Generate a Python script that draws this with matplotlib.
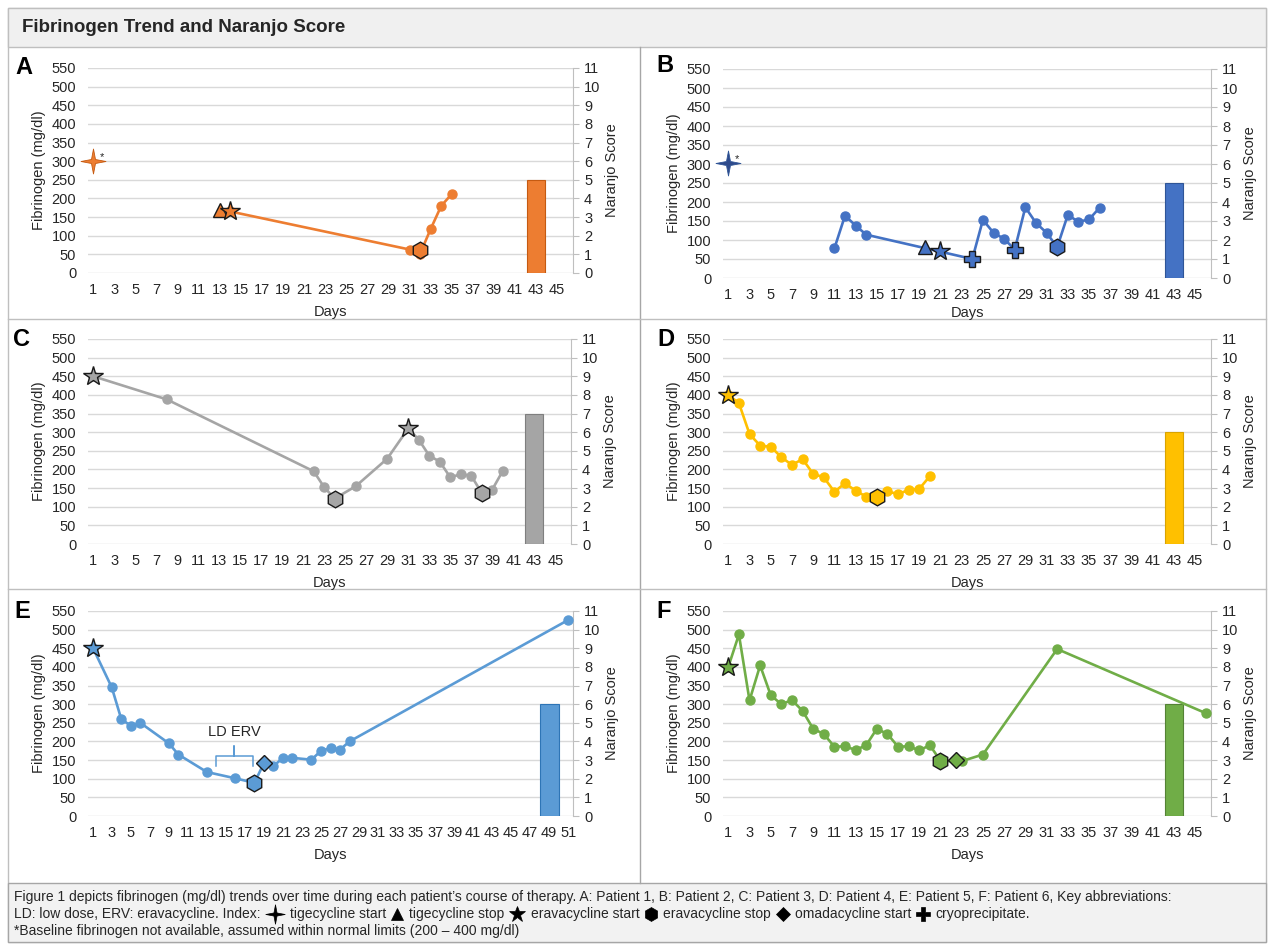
import matplotlib
matplotlib.use("Agg")
import matplotlib.pyplot as plt
from matplotlib.path import Path
from matplotlib.patches import Rectangle

plt.rcParams['font.family'] = ['Liberation Sans', 'DejaVu Sans']

W, H = 1269, 944

# ---------------- data ----------------
# A: Patient 1
a_days = [14, 31, 32, 33, 34, 35]
a_fib = [165, 63, 52, 118, 180, 212]
a_naranjo = 5
# B: Patient 2
b_days = [11, 12, 13, 14, 24, 25, 26, 27, 28, 29, 30, 31, 32, 33, 34, 35, 36]
b_fib = [78, 164, 138, 114, 50, 153, 119, 103, 75, 186, 145, 119, 81, 166, 148, 154, 185]
b_naranjo = 5
# C: Patient 3
c_days = [1, 8, 22, 23, 24, 26, 29, 31, 32, 33, 34, 35, 36, 37, 38, 39, 40]
c_fib = [450, 388, 195, 152, 122, 155, 229, 310, 280, 237, 221, 179, 187, 183, 137, 146, 196]
c_naranjo = 7
# D: Patient 4
d_days = list(range(1, 21))
d_fib = [400, 378, 295, 264, 261, 233, 212, 228, 188, 179,
         140, 163, 143, 127, 127, 141, 134, 145, 148, 182]
d_naranjo = 6
# E: Patient 5
e_days = [1, 3, 4, 5, 6, 9, 10, 13, 16, 18, 19, 20, 21, 22, 24, 25, 26, 27, 28, 51]
e_fib = [452, 345, 260, 242, 250, 195, 165, 118, 101, 89, 142, 134, 156, 156, 151, 175, 182, 178, 200, 526]
e_naranjo = 6
e_ld_span = [13.95, 17.8]
# F: Patient 6
f_days = list(range(1, 22)) + [23, 25, 32, 46]
f_fib = [400, 487, 310, 404, 324, 300, 311, 282, 234, 220, 186, 187, 177, 190,
         234, 220, 186, 187, 176, 190, 148, 147, 165, 448, 276]
f_naranjo = 6

# therapy events: (days, fibrinogen)
a_events = {'tige_start': ([1], [300]), 'tige_stop': ([13], [170]),
            'erav_start': ([14], [165]), 'erav_stop': ([32], [62])}
b_events = {'tige_start': ([1], [302]), 'tige_stop': ([19.5], [81]),
            'erav_start': ([21], [72]), 'cryo': ([24, 28], [50, 75]),
            'erav_stop': ([32], [82])}
c_events = {'erav_start': ([1, 31], [450, 310]), 'erav_stop': ([24, 38], [122, 137])}
d_events = {'erav_start': ([1], [400]), 'erav_stop': ([15], [127])}
e_events = {'erav_start': ([1], [452]), 'erav_stop': ([18], [89]), 'omad_start': ([19], [142])}
f_events = {'erav_start': ([1], [400]), 'erav_stop': ([21], [148]), 'omad_start': ([22.5], [150])}

# ---------------- styles ----------------
STAR4 = Path([(0, 1), (0.16, 0.16), (1, 0), (0.16, -0.16), (0, -1),
              (-0.16, -0.16), (-1, 0), (-0.16, 0.16), (0, 1)],
             [Path.MOVETO] + [Path.LINETO] * 7 + [Path.CLOSEPOLY])
MARKERS = {
    'tige_start': dict(marker=STAR4, ms=18, mew=0.6),
    'tige_stop': dict(marker='^', ms=10, mew=1.0),
    'erav_start': dict(marker='*', ms=15, mew=1.0),
    'erav_stop': dict(marker='h', ms=12, mew=1.0),
    'omad_start': dict(marker='D', ms=8, mew=1.0),
    'cryo': dict(marker='P', ms=12, mew=1.0),
}
GRID = '#D9D9D9'
TXT = '#262626'
FS = 10.5

fig = plt.figure(figsize=(W / 100, H / 100), dpi=100)

bg = fig.add_axes([0, 0, 1, 1], zorder=-10)
bg.set_xlim(0, W)
bg.set_ylim(H, 0)
bg.axis('off')
bg.add_patch(Rectangle((8, 8), 1258, 934, fc='white', ec='#BFBFBF', lw=1))
bg.add_patch(Rectangle((8, 8), 1258, 39, fc='#F0F0F0', ec='#BFBFBF', lw=1))
bg.add_patch(Rectangle((8, 883), 1258, 59, fc='#F2F2F2', ec='#A6A6A6', lw=1))
bg.plot([640, 640], [47, 883], color='#A6A6A6', lw=1)
bg.plot([8, 1266], [319, 319], color='#BFBFBF', lw=1)
bg.plot([8, 1266], [589, 589], color='#BFBFBF', lw=1)
bg.text(22, 27, 'Fibrinogen Trend and Naranjo Score', fontsize=13.5,
        fontweight='bold', color=TXT, va='center', ha='left')


def rect(l, t, r, b):
    return [l / W, 1 - b / H, (r - l) / W, (b - t) / H]


def panel(box, letter, letter_xy, color, edge, days, fib, events, naranjo,
          xmax, bar_day, bar_w, star4_color=None, days_off=39):
    l, t, r, b = box
    ax = fig.add_axes(rect(*box))
    ax2 = ax.twinx()
    ax.set_zorder(ax2.get_zorder() + 1)
    ax.patch.set_visible(False)

    ax.set_xlim(0.5, xmax + 0.5)
    ax.set_ylim(0, 550)
    ax2.set_ylim(0, 11)
    ax.set_yticks(range(0, 551, 50))
    ax2.set_yticks(range(0, 12))
    ax.set_xticks(range(1, xmax + 1, 2))
    ax2.yaxis.grid(True, color=GRID, lw=1.0)
    ax2.set_axisbelow(True)

    for s in ax.spines.values():
        s.set_visible(False)
    for k, s in ax2.spines.items():
        s.set_visible(k == 'right')
    ax2.spines['right'].set_color('#BFBFBF')
    ax.tick_params(axis='y', length=0, pad=8.5, labelsize=FS, labelcolor=TXT)
    ax.tick_params(axis='x', length=0, pad=7, labelsize=FS, labelcolor=TXT)
    ax2.tick_params(axis='y', length=4, width=0.8, color='#BFBFBF', pad=4,
                    labelsize=FS, labelcolor=TXT)

    ax2.bar([bar_day], [naranjo], width=bar_w, color=color, edgecolor=edge,
            lw=0.8, zorder=2)
    ax.plot(days, fib, color=color, lw=1.9, marker='o', ms=6.5, zorder=3)
    for kind, (xs, ys) in events.items():
        fc = star4_color if (kind == 'tige_start' and star4_color) else color
        ec = edge if kind == 'tige_start' else '#1A1A1A'
        ax.plot(xs, ys, ls='none', mfc=fc, mec=ec, zorder=5, clip_on=False,
                **MARKERS[kind])
        if kind == 'tige_start':
            for x, y in zip(xs, ys):
                ax.annotate('*', (x, y), xytext=(5, 1), textcoords='offset points',
                            fontsize=8, color=TXT)

    bg.text(letter_xy[0], letter_xy[1], letter, fontsize=17, fontweight='bold',
            color='black', ha='center', va='center')
    bg.text(l - 49, (t + b) / 2, 'Fibrinogen (mg/dl)', rotation=90, fontsize=FS,
            color=TXT, ha='center', va='center')
    bg.text(r + 39, (t + b) / 2, 'Naranjo Score', rotation=90, fontsize=FS,
            color=TXT, ha='center', va='center')
    bg.text((l + r) / 2, b + days_off, 'Days', fontsize=FS, color=TXT,
            ha='center', va='center')
    return ax


panel((88, 68, 573, 273), 'A', (24, 68), '#ED7D31', '#C55A11', a_days, a_fib,
      a_events, a_naranjo, 46, 43, 1.75)
panel((723, 69, 1211, 278), 'B', (665, 66), '#4472C4', '#2F5597', b_days, b_fib,
      b_events, b_naranjo, 46, 43, 1.75, star4_color='#2E4A8B', days_off=35)
panel((88, 339, 571, 544), 'C', (22, 339), '#A5A5A5', '#7F7F7F', c_days, c_fib,
      c_events, c_naranjo, 46, 43, 1.75)
panel((723, 339, 1211, 544), 'D', (666, 339), '#FFC000', '#D9A300', d_days, d_fib,
      d_events, d_naranjo, 46, 43, 1.75)
ax_e = panel((88, 611, 573, 816), 'E', (22, 611), '#5B9BD5', '#2E75B6', e_days, e_fib,
             e_events, e_naranjo, 51, 49, 2.0)
panel((723, 611, 1211, 816), 'F', (664, 611), '#70AD47', '#548235', f_days, f_fib,
      f_events, f_naranjo, 46, 43, 1.75)

# LD ERV bracket in panel E
x0, x1 = e_ld_span
xm = (x0 + x1) / 2
ax_e.plot([x0, x0, xm, xm, xm, x1, x1], [133, 160, 160, 188, 160, 160, 133],
          color='#5B9BD5', lw=1.1, zorder=4)
ax_e.text(xm, 226, 'LD ERV', fontsize=FS, color=TXT, ha='center', va='center')

# ---------------- caption ----------------
CFS = 10
bg.text(14, 897, "Figure 1 depicts fibrinogen (mg/dl) trends over time during each patient\u2019s "
        "course of therapy. A: Patient 1, B: Patient 2, C: Patient 3, D: Patient 4, "
        "E: Patient 5, F: Patient 6, Key abbreviations:", fontsize=CFS, color=TXT,
        va='center', ha='left')
bg.text(14, 931, "*Baseline fibrinogen not available, assumed within normal limits (200 \u2013 400 mg/dl)",
        fontsize=CFS, color=TXT, va='center', ha='left')

caption2 = [('t', 'LD: low dose, ERV: eravacycline. Index:'), ('m', 'tige_start'),
            ('t', 'tigecycline start'), ('m', 'tige_stop'), ('t', 'tigecycline stop'),
            ('m', 'erav_start'), ('t', 'eravacycline start'), ('m', 'erav_stop'),
            ('t', 'eravacycline stop'), ('m', 'omad_start'), ('t', 'omadacycline start'),
            ('m', 'cryo'), ('t', 'cryoprecipitate.')]
cap_ms = {'tige_start': 14, 'tige_stop': 9, 'erav_start': 12, 'erav_stop': 10,
          'omad_start': 7, 'cryo': 10}
renderer = fig.canvas.get_renderer()
x = 14
for kind, val in caption2:
    if kind == 't':
        tx = bg.text(x, 914, val, fontsize=CFS, color=TXT, va='center', ha='left')
        x += tx.get_window_extent(renderer).width + 5
    else:
        st = dict(MARKERS[val])
        st['ms'] = cap_ms[val]
        st['mew'] = 0.5
        half = cap_ms[val] * 100 / 72 / 2
        if val == 'omad_start':
            half *= 1.4
        bg.plot([x + half], [914], ls='none', color='black', mfc='black', mec='black', **st)
        x += 2 * half + 5

fig.savefig('out.png', dpi=100)
